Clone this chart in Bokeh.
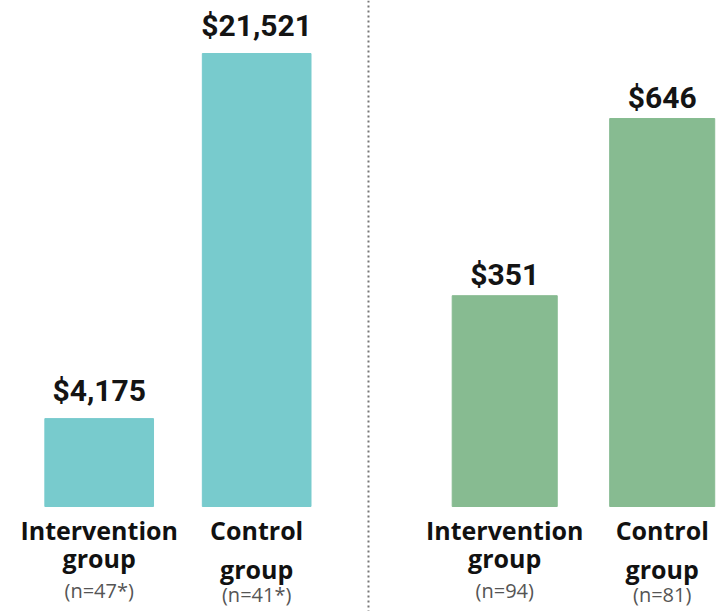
from bokeh.plotting import figure
from bokeh.models import FactorRange, Range1d, Span, ColumnDataSource, LabelSet
from bokeh.core.properties import value
from bokeh.transform import dodge
from bokeh.embed import file_html
from bokeh.resources import INLINE

# ---- data ----
groups = ["left", "right"]
categories = ["Intervention", "Control"]
left_values = [4175, 21521]
right_values = [351, 646]
left_n = ["(n=47*)", "(n=41*)"]
right_n = ["(n=94)", "(n=81)"]
second_line = "group"

factors = [(g, c) for g in groups for c in categories]

x_range = FactorRange(factors=factors, group_padding=0.575, factor_padding=0,
                      range_padding=0.0206, range_padding_units="absolute")
SHIFT = 0.106  # horizontal nudge of all marks, in category widths

p = figure(width=727, height=611, x_range=x_range, y_range=Range1d(-4988, 24039),
           output_backend="svg", toolbar_location=None,
           x_axis_location=None, y_axis_location=None,
           min_border_left=0, min_border_right=0, min_border_top=0, min_border_bottom=0)
p.extra_y_ranges = {"right": Range1d(-174.8, 842.5)}
p.grid.visible = False
p.outline_line_color = None
p.background_fill_color = "white"
p.border_fill_color = "white"

panels = [
    (factors[:2], left_values, left_n, "#78CBCD", 0.69, "default", 18),
    (factors[2:], right_values, right_n, "#87BB91", 0.667, "right", 11),
]

xd = dodge("x", SHIFT, range=x_range)
name_font = value("Open Sans")
for xs, vals, ns, color, bw, yr, voff in panels:
    src = ColumnDataSource(dict(x=xs, top=vals, label=[f"${v:,}" for v in vals]))
    p.vbar(x=xd, top="top", width=bw, source=src, color=color, y_range_name=yr)
    p.add_layout(LabelSet(x=xd, y="top", text="label", source=src, y_range_name=yr,
                          text_font=value("Roboto"), text_font_style="bold",
                          text_font_size="30px", text_align="center",
                          text_baseline="alphabetic", y_offset=voff,
                          text_color="#141414"))
    for i, (cat, n) in enumerate(zip(categories, ns)):
        s = ColumnDataSource(dict(x=[xs[i]], y=[0], name=[cat], second=[second_line], n=[n]))
        group_off = -61 if i == 0 else -72
        n_off = -91 if i == 0 else -95
        p.add_layout(LabelSet(x=xd, y="y", text="name", source=s, y_range_name=yr,
                              text_font=name_font, text_font_style="bold",
                              text_font_size="25px", text_align="center",
                              text_baseline="alphabetic", y_offset=-33,
                              text_color="#111111"))
        p.add_layout(LabelSet(x=xd, y="y", text="second", source=s, y_range_name=yr,
                              text_font=name_font, text_font_style="bold",
                              text_font_size="25px", text_align="center",
                              text_baseline="alphabetic", y_offset=group_off,
                              text_color="#111111"))
        p.add_layout(LabelSet(x=xd, y="y", text="n", source=s, y_range_name=yr,
                              text_font=name_font, text_font_size="20px",
                              text_align="center", text_baseline="alphabetic",
                              y_offset=n_off, text_color="#555555"))

divider = Span(location=2.316, dimension="height", line_color="#777777",
               line_dash="2 3", line_width=2)
p.add_layout(divider)

open("out.html", "w").write(file_html(p, INLINE))
